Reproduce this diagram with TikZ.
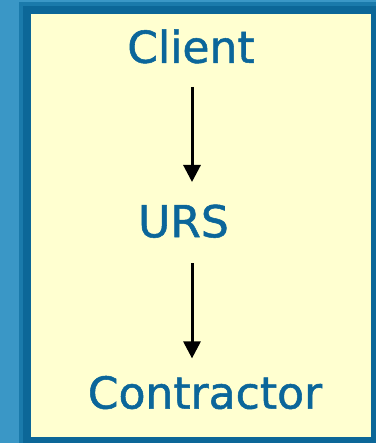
\documentclass[tikz,border=0pt]{standalone}
\usepackage{fontspec}
\setmainfont{DejaVu Sans}
\usetikzlibrary{positioning, arrows.meta}
\usepackage{xcolor}
\definecolor{SlideBlue}{HTML}{3A97C6}
\definecolor{FrameBlue}{HTML}{0C6798}
\definecolor{FrameEdge}{HTML}{1A7AAB}
\definecolor{PaleCream}{HTML}{FFFFD0}
\definecolor{TitleBlue}{HTML}{0B669A}

\begin{document}
\begin{tikzpicture}[
  x=1pt, y=-1pt,
  party/.style={inner sep=0pt, text height=33pt, text depth=0pt, text=TitleBlue,
                font=\fontsize{44}{48}\selectfont\addfontfeature{FakeBold=1.2}},
  arrow/.style={-{Triangle[width=17pt,length=17pt]}, line width=3pt, black}
]
  % slide background and frame
  \fill[SlideBlue] (0,0) rectangle (376,443);
  \fill[FrameEdge] (19,2) rectangle (376,443);
  \fill[FrameBlue] (23,6) rectangle (376,443);
  \fill[PaleCream] (31,14) rectangle (371,437);
  \useasboundingbox (0,0) rectangle (376,443);

  \node[party, anchor=south] (client) at (191,63) {Client};
  \node[party, below=141pt of client, xshift=-7.5pt] (urs) {URS};
  \node[party, below=138pt of urs, xshift=21.5pt] (contractor) {Contractor};

  \draw[arrow] ([xshift=1pt, yshift=-24pt]client.south)
    -- ([xshift=1pt, yshift=22pt]client.south |- urs.north);
  \draw[arrow] ([xshift=1pt, yshift=-26pt]client.south |- urs.south)
    -- ([xshift=1pt, yshift=17pt]client.south |- contractor.north);
\end{tikzpicture}
\end{document}
